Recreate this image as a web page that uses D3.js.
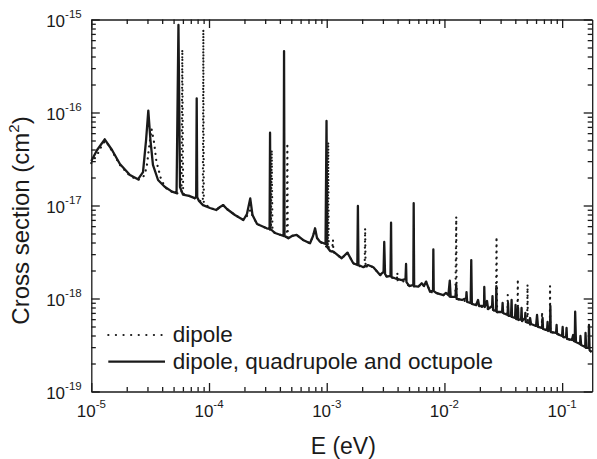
<!DOCTYPE html>
<html>
<head>
<meta charset="utf-8">
<script src="https://cdn.jsdelivr.net/npm/d3@7"></script>
<style>
  html, body { margin: 0; padding: 0; background: #fff; }
  svg { display: block; font-family: "Liberation Sans", Arial, sans-serif; }
  .axis path, .axis line { stroke: #1a1a1a; stroke-width: 1.3; }
</style>
</head>
<body>
<div id="chart"></div>
<script>
// Cross section vs energy

// dipole + quadrupole + octupole (solid)
const solidE = [
  1.00e-5, 1.12e-5, 1.30e-5, 1.50e-5, 1.75e-5, 2.13e-5, 2.49e-5, 2.75e-5, 2.92e-5, 3.05e-5,
  3.18e-5, 3.34e-5, 3.69e-5, 4.20e-5, 4.85e-5, 5.30e-5, 5.50e-5, 5.67e-5, 6.01e-5, 6.76e-5,
  7.56e-5, 7.78e-5, 7.86e-5, 7.94e-5, 8.22e-5, 8.89e-5, 1.02e-4, 1.15e-4, 1.24e-4, 1.32e-4,
  1.42e-4, 1.66e-4, 1.96e-4, 2.10e-4, 2.24e-4, 2.34e-4, 2.56e-4, 3.09e-4, 3.27e-4, 3.30e-4,
  3.33e-4, 3.64e-4, 4.30e-4, 4.34e-4, 4.38e-4, 4.72e-4, 5.07e-4, 5.56e-4, 6.29e-4, 7.21e-4,
  7.65e-4, 7.96e-4, 8.27e-4, 8.77e-4, 9.77e-4, 9.96e-4, 1.01e-3, 1.07e-3, 1.14e-3, 1.34e-3,
  1.50e-3, 1.68e-3, 1.82e-3, 1.84e-3, 1.86e-3, 2.05e-3, 2.24e-3, 2.49e-3, 2.84e-3, 3.04e-3,
  3.08e-3, 3.13e-3, 3.24e-3, 3.48e-3, 3.52e-3, 3.55e-3, 3.81e-3, 4.34e-3, 4.67e-3, 4.72e-3,
  4.76e-3, 5.03e-3, 5.44e-3, 5.48e-3, 5.53e-3, 6.00e-3, 6.41e-3, 6.71e-3, 6.98e-3, 7.55e-3,
  8.00e-3, 8.05e-3, 8.11e-3, 8.60e-3, 9.79e-3, 1.03e-2, 1.08e-2, 1.11e-2, 1.13e-2, 1.24e-2,
  1.26e-2, 1.27e-2, 1.41e-2, 1.53e-2, 1.54e-2, 1.56e-2, 1.67e-2, 1.69e-2, 1.71e-2, 1.86e-2,
  1.93e-2, 1.97e-2, 2.17e-2, 2.18e-2, 2.20e-2, 2.30e-2, 2.35e-2, 2.54e-2, 2.56e-2, 2.59e-2,
  2.74e-2, 2.76e-2, 2.78e-2, 3.09e-2, 3.12e-2, 3.15e-2, 3.44e-2, 3.47e-2, 3.51e-2, 3.68e-2,
  3.72e-2, 3.75e-2, 3.98e-2, 4.02e-2, 4.06e-2, 4.19e-2, 4.22e-2, 4.25e-2, 4.48e-2, 4.52e-2,
  4.56e-2, 4.84e-2, 4.87e-2, 4.91e-2, 5.23e-2, 5.34e-2, 5.44e-2, 6.00e-2, 6.12e-2, 6.24e-2,
  6.75e-2, 6.82e-2, 6.88e-2, 7.44e-2, 7.52e-2, 7.59e-2, 7.89e-2, 7.94e-2, 8.00e-2, 8.88e-2,
  8.97e-2, 9.05e-2, 9.98e-2, 1.01e-1, 1.02e-1, 1.08e-1, 1.09e-1, 1.10e-1, 1.21e-1, 1.24e-1,
  1.26e-1, 1.28e-1, 1.29e-1, 1.31e-1, 1.42e-1, 1.43e-1, 1.45e-1, 1.57e-1, 1.58e-1, 1.60e-1,
  1.68e-1, 1.69e-1, 1.71e-1, 1.78e-1
];
const solidSigma = [
  3.01e-17, 3.95e-17, 5.15e-17, 3.95e-17, 2.79e-17, 2.13e-17, 1.91e-17, 2.29e-17, 5.06e-17, 1.05e-16,
  5.06e-17, 2.73e-17, 1.88e-17, 1.59e-17, 1.41e-17, 1.36e-17, 8.73e-16, 1.58e-17, 1.31e-17, 1.27e-17,
  1.20e-17, 1.23e-17, 1.42e-16, 1.23e-17, 1.12e-17, 1.01e-17, 9.40e-18, 8.95e-18, 9.64e-18, 1.01e-17,
  9.17e-18, 7.90e-18, 6.99e-18, 8.10e-18, 1.19e-17, 7.90e-18, 6.33e-18, 5.69e-18, 5.59e-18, 6.06e-17,
  5.59e-18, 5.06e-18, 4.70e-18, 4.58e-16, 4.70e-18, 4.44e-18, 4.70e-18, 4.82e-18, 4.26e-18, 3.92e-18,
  4.70e-18, 5.69e-18, 4.47e-18, 4.08e-18, 3.85e-18, 8.10e-17, 3.58e-18, 3.24e-18, 3.19e-18, 2.71e-18,
  3.11e-18, 2.39e-18, 2.29e-18, 9.88e-18, 2.29e-18, 2.17e-18, 2.29e-18, 2.17e-18, 1.79e-18, 1.93e-18,
  4.05e-18, 1.83e-18, 1.72e-18, 1.75e-18, 6.53e-18, 1.70e-18, 1.65e-18, 1.58e-18, 1.62e-18, 2.35e-18,
  1.50e-18, 1.36e-18, 1.40e-18, 1.06e-17, 1.36e-18, 1.34e-18, 1.46e-18, 1.36e-18, 1.52e-18, 1.18e-18,
  1.23e-18, 3.37e-18, 1.20e-18, 1.14e-18, 1.09e-18, 1.15e-18, 1.09e-18, 1.56e-18, 1.04e-18, 1.04e-18,
  1.40e-18, 9.88e-19, 9.64e-19, 1.01e-18, 1.17e-18, 9.17e-19, 8.95e-19, 2.59e-18, 8.73e-19, 8.51e-19,
  9.64e-19, 8.31e-19, 8.31e-19, 1.33e-18, 8.10e-19, 9.40e-19, 7.71e-19, 8.31e-19, 1.06e-18, 7.52e-19,
  7.34e-19, 1.36e-18, 7.16e-19, 7.16e-19, 8.95e-19, 6.99e-19, 6.65e-19, 8.95e-19, 6.49e-19, 6.49e-19,
  9.64e-19, 6.33e-19, 6.17e-19, 8.51e-19, 6.02e-19, 6.02e-19, 7.90e-19, 5.87e-19, 6.02e-19, 7.90e-19,
  5.73e-19, 6.17e-19, 6.99e-19, 5.59e-19, 5.45e-19, 6.17e-19, 5.32e-19, 5.06e-19, 6.65e-19, 4.94e-19,
  4.82e-19, 6.17e-19, 4.70e-19, 4.58e-19, 5.59e-19, 4.47e-19, 4.58e-19, 8.31e-19, 4.36e-19, 4.26e-19,
  5.19e-19, 4.15e-19, 3.95e-19, 4.94e-19, 3.85e-19, 3.85e-19, 4.82e-19, 3.67e-19, 3.58e-19, 4.05e-19,
  3.49e-19, 3.49e-19, 7.21e-19, 3.41e-19, 3.24e-19, 3.95e-19, 3.16e-19, 3.01e-19, 4.26e-19, 2.94e-19,
  2.94e-19, 5.19e-19, 2.79e-19, 2.66e-19
];

// dipole only (dotted)
const dottedE = [
  1.00e-5, 1.12e-5, 1.26e-5, 1.33e-5, 1.50e-5, 1.75e-5, 2.13e-5, 2.49e-5, 2.70e-5, 2.84e-5,
  2.97e-5, 3.09e-5, 3.25e-5, 3.41e-5, 3.57e-5, 3.93e-5, 4.31e-5, 4.85e-5, 5.62e-5, 5.84e-5,
  5.93e-5, 6.03e-5, 6.25e-5, 6.76e-5, 7.60e-5, 8.39e-5, 8.86e-5, 8.95e-5, 9.03e-5, 1.02e-4,
  1.15e-4, 1.24e-4, 1.32e-4, 1.42e-4, 1.66e-4, 1.96e-4, 2.10e-4, 2.24e-4, 2.37e-4, 2.56e-4,
  3.09e-4, 3.36e-4, 3.41e-4, 3.46e-4, 3.64e-4, 4.30e-4, 4.58e-4, 4.63e-4, 4.67e-4, 5.07e-4,
  5.56e-4, 6.29e-4, 7.21e-4, 7.65e-4, 7.96e-4, 8.27e-4, 8.77e-4, 9.77e-4, 1.02e-3, 1.03e-3,
  1.04e-3, 1.11e-3, 1.13e-3, 1.14e-3, 1.34e-3, 1.50e-3, 1.68e-3, 1.88e-3, 2.10e-3, 2.12e-3,
  2.14e-3, 2.24e-3, 2.49e-3, 2.84e-3, 3.24e-3, 3.81e-3, 3.95e-3, 3.98e-3, 4.01e-3, 4.34e-3,
  5.03e-3, 6.00e-3, 6.41e-3, 6.71e-3, 6.98e-3, 7.55e-3, 8.60e-3, 9.79e-3, 1.14e-2, 1.24e-2,
  1.26e-2, 1.27e-2, 1.41e-2, 1.67e-2, 1.86e-2, 2.35e-2, 2.74e-2, 2.77e-2, 2.80e-2, 3.15e-2,
  3.43e-2, 3.45e-2, 3.47e-2, 3.75e-2, 4.17e-2, 4.20e-2, 4.22e-2, 4.56e-2, 5.05e-2, 5.08e-2,
  5.11e-2, 6.00e-2, 6.72e-2, 6.75e-2, 6.79e-2, 7.86e-2, 7.89e-2, 7.94e-2, 8.88e-2, 9.98e-2,
  1.10e-1, 1.26e-1, 1.42e-1, 1.60e-1, 1.78e-1
];
const dottedSigma = [
  2.86e-17, 3.49e-17, 4.70e-17, 4.94e-17, 3.85e-17, 2.73e-17, 2.08e-17, 1.88e-17, 1.98e-17, 2.13e-17,
  2.73e-17, 4.15e-17, 6.65e-17, 4.82e-17, 3.01e-17, 1.88e-17, 1.54e-17, 1.40e-17, 1.33e-17, 1.36e-17,
  4.76e-16, 1.36e-17, 1.28e-17, 1.27e-17, 1.19e-17, 1.12e-17, 1.09e-17, 7.81e-16, 1.06e-17, 9.40e-18,
  8.95e-18, 9.64e-18, 1.01e-17, 9.17e-18, 7.90e-18, 6.99e-18, 7.71e-18, 8.95e-18, 7.52e-18, 6.33e-18,
  5.69e-18, 5.45e-18, 3.95e-17, 5.32e-18, 5.06e-18, 4.70e-18, 4.58e-18, 4.70e-17, 4.47e-18, 4.70e-18,
  4.82e-18, 4.26e-18, 3.92e-18, 4.70e-18, 5.45e-18, 4.47e-18, 4.08e-18, 3.67e-18, 3.49e-18, 4.82e-17,
  3.41e-18, 3.20e-18, 4.26e-18, 3.16e-18, 2.71e-18, 3.11e-18, 2.39e-18, 2.24e-18, 2.18e-18, 5.69e-18,
  2.13e-18, 2.29e-18, 2.17e-18, 1.79e-18, 1.72e-18, 1.65e-18, 1.62e-18, 1.89e-18, 1.58e-18, 1.58e-18,
  1.36e-18, 1.34e-18, 1.46e-18, 1.36e-18, 1.52e-18, 1.18e-18, 1.14e-18, 1.09e-18, 1.04e-18, 1.04e-18,
  7.58e-18, 9.88e-19, 9.64e-19, 8.95e-19, 8.51e-19, 7.71e-19, 7.34e-19, 4.62e-18, 7.16e-19, 6.99e-19,
  6.65e-19, 1.09e-18, 6.49e-19, 6.33e-19, 6.02e-19, 1.62e-18, 5.87e-19, 5.73e-19, 5.45e-19, 1.41e-18,
  5.32e-19, 5.06e-19, 4.82e-19, 7.16e-19, 4.70e-19, 4.47e-19, 1.36e-18, 4.36e-19, 4.26e-19, 3.95e-19,
  3.67e-19, 3.49e-19, 3.24e-19, 2.94e-19, 2.66e-19
];

const xDomain = [1e-5, 0.18];
const yDomain = [1e-19, 1e-15];
const xMajor = [1e-5, 1e-4, 1e-3, 1e-2, 1e-1];
const xExponents = ['-5', '-4', '-3', '-2', '-1'];
const yMajor = [1e-19, 1e-18, 1e-17, 1e-16, 1e-15];
const yExponents = ['-19', '-18', '-17', '-16', '-15'];
const legendLabels = ['dipole', 'dipole, quadrupole and octupole'];

const W = 597, H = 459;
const margin = { top: 19.5, right: 4.8, bottom: 67.5, left: 91.3 };
const width = W - margin.left - margin.right;
const height = H - margin.top - margin.bottom;
const ink = '#1a1a1a';

const svg = d3.select('#chart').append('svg')
  .attr('width', W)
  .attr('height', H);

const g = svg.append('g')
  .attr('transform', `translate(${margin.left},${margin.top})`);

const x = d3.scaleLog().domain(xDomain).range([0, width]);
const y = d3.scaleLog().domain(yDomain).range([height, 0]);

// minor tick positions 2..9 inside each decade
function minorTicks(domain) {
  const out = [];
  for (let e = Math.floor(Math.log10(domain[0])); e < Math.ceil(Math.log10(domain[1])); e++) {
    for (let k = 2; k <= 9; k++) {
      const v = k * Math.pow(10, e);
      if (v > domain[0] && v < domain[1]) out.push(v);
    }
  }
  return out;
}
const xMinor = minorTicks(xDomain);
const yMinor = minorTicks(yDomain);

// axes on all four sides, ticks pointing inward
function addAxis(axisFn, values, size, transform, withDomain) {
  const a = axisFn.tickValues(values).tickSize(-size).tickSizeOuter(0).tickFormat('');
  const sel = g.append('g').attr('class', 'axis').attr('transform', transform).call(a);
  if (!withDomain) sel.select('.domain').remove();
}
addAxis(d3.axisBottom(x), xMajor, 8.5, `translate(0,${height})`, true);
addAxis(d3.axisBottom(x), xMinor, 4.5, `translate(0,${height})`, false);
addAxis(d3.axisTop(x), xMajor, 8.5, 'translate(0,0)', true);
addAxis(d3.axisTop(x), xMinor, 4.5, 'translate(0,0)', false);
addAxis(d3.axisLeft(y), yMajor, 8.5, 'translate(0,0)', true);
addAxis(d3.axisLeft(y), yMinor, 4.5, 'translate(0,0)', false);
addAxis(d3.axisRight(y), yMajor, 8.5, `translate(${width},0)`, true);
addAxis(d3.axisRight(y), yMinor, 4.5, `translate(${width},0)`, false);

// tick labels as 10 with superscript exponent
const xLab = g.append('g').selectAll('text')
  .data(xMajor)
  .join('text')
  .attr('x', d => x(d))
  .attr('y', height + 25)
  .attr('text-anchor', 'middle')
  .attr('fill', ink)
  .style('font-size', '17px');
xLab.append('tspan').text('10');
xLab.append('tspan').attr('dy', -8.5).style('font-size', '11.5px').text((d, i) => xExponents[i]);

const yLab = g.append('g').selectAll('text')
  .data(yMajor)
  .join('text')
  .attr('x', -9.6)
  .attr('y', d => y(d) + 7)
  .attr('text-anchor', 'end')
  .attr('fill', ink)
  .style('font-size', '17px');
yLab.append('tspan').text('10');
yLab.append('tspan').attr('dy', -8.5).style('font-size', '11.5px').text((d, i) => yExponents[i]);

// axis titles
svg.append('text')
  .attr('x', margin.left + width / 2 + 1.5)
  .attr('y', 454)
  .attr('text-anchor', 'middle')
  .attr('fill', ink)
  .style('font-size', '23px')
  .text('E (eV)');

const yTitle = svg.append('text')
  .attr('transform', 'translate(28.5,220.5) rotate(-90)')
  .attr('text-anchor', 'middle')
  .attr('fill', ink)
  .style('font-size', '24px');
yTitle.append('tspan').text('Cross section (cm');
yTitle.append('tspan').attr('dy', -10).style('font-size', '15px').text('2');
yTitle.append('tspan').attr('dy', 10).text(')');

// curves
const line = d3.line()
  .x(d => x(d[0]))
  .y(d => y(d[1]));

const plot = g.append('g');
plot.append('path')
  .datum(dottedE.map((e, i) => [e, dottedSigma[i]]))
  .attr('d', line)
  .attr('fill', 'none')
  .attr('stroke', ink)
  .attr('stroke-width', 2.2)
  .attr('stroke-linecap', 'round')
  .attr('stroke-dasharray', '0.1 6');

plot.append('path')
  .datum(solidE.map((e, i) => [e, solidSigma[i]]))
  .attr('d', line)
  .attr('fill', 'none')
  .attr('stroke', ink)
  .attr('stroke-width', 2.3)
  .attr('stroke-linejoin', 'round');

// legend
const legend = svg.append('g');
legend.selectAll('line')
  .data(legendLabels)
  .join('line')
  .attr('x1', 108.3)
  .attr('x2', 165)
  .attr('y1', (d, i) => 335 + i * 26.7)
  .attr('y2', (d, i) => 335 + i * 26.7)
  .attr('stroke', ink)
  .attr('stroke-width', 2.2)
  .attr('stroke-linecap', (d, i) => i === 0 ? 'round' : 'butt')
  .attr('stroke-dasharray', (d, i) => i === 0 ? '0.1 7.5' : null);
legend.selectAll('text')
  .data(legendLabels)
  .join('text')
  .attr('x', 172.7)
  .attr('y', (d, i) => 342 + i * 26.7)
  .attr('fill', ink)
  .style('font-size', '22.5px')
  .text(d => d);
</script>
</body>
</html>
